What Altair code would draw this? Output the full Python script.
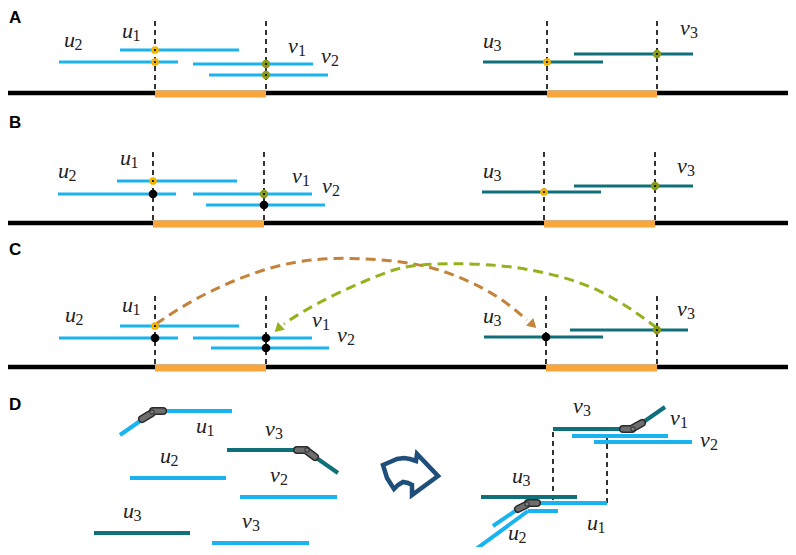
import altair as alt
import pandas as pd

# ---------------- canvas (reference pixel coordinates) ----------------
X0, X1 = 8, 788
Y0, Y1 = 8, 547

# ---------------- colours ----------------
BLUE = "#19b3ef"
TEAL = "#10707a"
ORANGE = "#f8a63c"
YELLOW = "#f5b400"
OLIVE = "#8a9b17"
BROWN = "#c4833a"
GREEN = "#95b21d"
NAVY = "#1f4e7a"

# ---------------- panel letters ----------------
panel_letters = ["A", "B", "C", "D"]
panel_letter_x = [9, 9, 9, 9]
panel_letter_y = [23, 128, 255, 410]

# ---------------- chromosome baselines ----------------
baseline_y = [93, 223, 367]
orange_x1 = [155, 547, 153, 544, 155, 546]
orange_x2 = [266, 657, 264, 655, 266, 657]
orange_y = [94, 94, 224, 224, 368, 368]

# ---------------- dashed vertical guides (x1, y1, x2, y2) ----------------
dashes = [
    (155, 21, 155, 93), (266, 21, 266, 93), (547, 21, 547, 93), (657, 21, 657, 93),
    (153, 152, 153, 223), (264, 152, 264, 223), (544, 152, 544, 223), (655, 152, 655, 223),
    (155, 296, 155, 367), (266, 296, 266, 367), (546, 296, 546, 367), (657, 296, 657, 367),
    (553, 432, 553, 503), (607, 435, 607, 506),
]

# ---------------- reads (light blue) ----------------
blue_segments = [
    # A
    (120, 50, 239, 50), (59, 62, 178, 62), (193, 64, 313, 64), (209, 75, 328, 75),
    # B
    (117, 181, 237, 181), (58, 194, 176, 194), (193, 194, 312, 194), (206, 205, 325, 205),
    # C
    (120, 326, 239, 326), (59, 338, 178, 338), (193, 338, 312, 338), (211, 348, 329, 348),
]
blue_segments_d = [
    (120, 435, 143, 419), (162, 411, 232, 411), (130, 478, 226, 478),
    (240, 497, 337, 497), (212, 543, 309, 543),
    (572, 436, 668, 436), (594, 442, 692, 442),
    (493, 526, 518, 509), (537, 503, 607, 503),
    (472, 552, 528, 511), (528, 511, 558, 511),
]

# ---------------- reads (teal) ----------------
teal_segments = [
    (483, 62, 603, 62), (574, 54, 693, 54),
    (482, 192, 601, 192), (574, 186, 693, 186),
    (484, 337, 603, 337), (570, 330, 688, 330),
]
teal_segments_d = [
    (227, 450, 297, 450), (315, 457, 338, 473), (94, 533, 190, 533),
    (553, 429, 623, 429), (642, 423, 665, 407), (481, 497, 577, 497),
]

# ---------------- joints ----------------
joint_pieces = [
    (142, 419, 152, 413), (153, 411, 163, 411),
    (297, 450, 306, 450), (307, 451, 315, 457),
    (623, 429, 632, 429), (633, 428, 642, 423),
    (518, 509, 526, 505), (528, 503, 537, 503),
]
joint_hinge_x = [152, 307, 633, 527]
joint_hinge_y = [412, 450, 429, 504]

# ---------------- breakpoint markers ----------------
yellow_x = [155, 155, 547, 153, 544, 155]
yellow_y = [50, 62, 62, 181, 192, 326]
olive_x = [266, 266, 657, 264, 655, 657]
olive_y = [64, 75, 54, 194, 186, 330]
black_x = [153, 264, 155, 266, 266, 546]
black_y = [194, 205, 338, 338, 348, 337]

# ---------------- labels (letter, subscript, x, baseline y) ----------------
labels = [
    ("u", "2", 64, 47), ("u", "1", 122, 38), ("v", "1", 288, 53), ("v", "2", 321, 63),
    ("u", "3", 483, 48), ("v", "3", 680, 35),
    ("u", "2", 58, 178), ("u", "1", 120, 165), ("v", "1", 292, 183), ("v", "2", 322, 193),
    ("u", "3", 483, 178), ("v", "3", 677, 173),
    ("u", "2", 65, 322), ("u", "1", 122, 312), ("v", "1", 312, 327), ("v", "2", 337, 342),
    ("u", "3", 483, 323), ("v", "3", 677, 316),
    ("u", "1", 196, 433), ("v", "3", 265, 436), ("u", "2", 160, 463), ("v", "2", 270, 482),
    ("u", "3", 123, 518), ("v", "3", 242, 528),
    ("v", "3", 573, 413), ("v", "1", 670, 425), ("v", "2", 700, 447),
    ("u", "3", 512, 483), ("u", "1", 587, 530), ("u", "2", 508, 540),
]

# ---------------- arcs in panel C ----------------
brown_x = [156, 187, 233, 283, 333, 393, 433, 467, 500, 527]
brown_y = [324, 303, 280, 263, 257, 260, 267, 280, 297, 320]
green_x = [657, 633, 600, 567, 533, 500, 450, 417, 397, 367, 333, 300, 284]
green_y = [328, 310, 290, 278, 270, 265, 263, 265, 268, 280, 295, 313, 324]
arrowhead_x = [533, 278]
arrowhead_y = [325, 329]
arrowhead_angle = [133, 227]
arrowhead_color = [BROWN, GREEN]

# ---------------- curved arrow icon (outline) ----------------
icon_x = [383, 387, 394, 398, 403, 408, 412, 412, 438, 417, 416, 410, 404, 397, 390]
icon_y = [465, 478, 489, 485, 482, 483, 485, 495, 476, 454, 461, 459, 458, 459, 462]

# ======================================================================
xs = alt.Scale(domain=[X0, X1], nice=False, zero=False)
ys = alt.Scale(domain=[Y0, Y1], nice=False, zero=False, reverse=True)


def X(f="x"):
    return alt.X(f"{f}:Q", scale=xs, axis=None)


def Y(f="y"):
    return alt.Y(f"{f}:Q", scale=ys, axis=None)


def seg_df(segs):
    return pd.DataFrame(segs, columns=["x", "y", "x2", "y2"])


def rules(segs, **kw):
    return alt.Chart(seg_df(segs)).mark_rule(**kw).encode(
        x=X(), y=Y(), x2="x2:Q", y2="y2:Q"
    )


layers = []

# baselines
base_df = pd.DataFrame({"x": [X0] * 3, "x2": [X1 + 8] * 3, "y": baseline_y})
layers.append(
    alt.Chart(base_df).mark_rule(color="black", strokeWidth=4.5, strokeCap="butt").encode(
        x=X(), x2="x2:Q", y=Y()
    )
)
orange_df = pd.DataFrame({"x": orange_x1, "x2": orange_x2, "y": orange_y})
layers.append(
    alt.Chart(orange_df).mark_rule(color=ORANGE, strokeWidth=7, strokeCap="butt").encode(
        x=X(), x2="x2:Q", y=Y()
    )
)

# dashed guides
layers.append(rules(dashes, color="black", strokeWidth=1.6, strokeDash=[5, 4], strokeCap="butt"))

# reads
layers.append(rules(blue_segments, color=BLUE, strokeWidth=3.2, strokeCap="butt"))
layers.append(rules(teal_segments, color=TEAL, strokeWidth=3.2, strokeCap="butt"))
layers.append(rules(blue_segments_d, color=BLUE, strokeWidth=4, strokeCap="butt"))
layers.append(rules(teal_segments_d, color=TEAL, strokeWidth=4, strokeCap="butt"))

# joints
layers.append(rules(joint_pieces, color="#2a2a2a", strokeWidth=8, strokeCap="round"))
layers.append(rules(joint_pieces, color="#6e6e6e", strokeWidth=5, strokeCap="round"))
hinge_df = pd.DataFrame({"x": joint_hinge_x, "y": joint_hinge_y})
layers.append(
    alt.Chart(hinge_df).mark_point(
        filled=True, size=18, color="#8a8a8a", stroke="#2a2a2a", strokeWidth=1.2
    ).encode(x=X(), y=Y())
)

# arcs
brown_df = pd.DataFrame({"x": brown_x, "y": brown_y, "o": range(len(brown_x))})
green_df = pd.DataFrame({"x": green_x, "y": green_y, "o": range(len(green_x))})
for df, col in [(brown_df, BROWN), (green_df, GREEN)]:
    layers.append(
        alt.Chart(df).mark_line(
            color=col, strokeWidth=3, strokeDash=[10, 6], interpolate="basis", strokeCap="butt"
        ).encode(x=X(), y=Y(), order="o:Q")
    )
head_df = pd.DataFrame(
    {"x": arrowhead_x, "y": arrowhead_y, "a": arrowhead_angle, "c": arrowhead_color}
)
layers.append(
    alt.Chart(head_df).mark_point(shape="triangle-up", filled=True, size=110, opacity=1).encode(
        x=X(), y=Y(), angle=alt.Angle("a:Q", scale=None), color=alt.Color("c:N", scale=None)
    )
)

# breakpoint markers
ydf = pd.DataFrame({"x": yellow_x, "y": yellow_y})
odf = pd.DataFrame({"x": olive_x, "y": olive_y})
bdf = pd.DataFrame({"x": black_x, "y": black_y})
layers.append(alt.Chart(ydf).mark_circle(size=60, color=YELLOW, opacity=1).encode(x=X(), y=Y()))
layers.append(alt.Chart(odf).mark_circle(size=70, color=OLIVE, opacity=1).encode(x=X(), y=Y()))
layers.append(alt.Chart(bdf).mark_circle(size=75, color="black", opacity=1).encode(x=X(), y=Y()))
centers = pd.concat([ydf, odf])
layers.append(alt.Chart(centers).mark_circle(size=5, color="black", opacity=1).encode(x=X(), y=Y()))

# curved arrow icon
icon_df = pd.DataFrame({"x": icon_x, "y": icon_y, "o": range(len(icon_x))})
layers.append(
    alt.Chart(icon_df).mark_line(
        color=NAVY, strokeWidth=4.5, interpolate="linear-closed", strokeJoin="miter"
    ).encode(x=X(), y=Y(), order="o:Q")
)

# labels
lab_df = pd.DataFrame(labels, columns=["letter", "sub", "x", "y"])
layers.append(
    alt.Chart(lab_df).mark_text(
        align="left", baseline="alphabetic", font="Liberation Serif",
        fontStyle="italic", fontSize=22, color="#222222"
    ).encode(x=X(), y=Y(), text="letter:N")
)
for letter, off in [("u", 10.5), ("v", 10.0)]:
    layers.append(
        alt.Chart(lab_df[lab_df["letter"] == letter]).mark_text(
            align="left", baseline="alphabetic", font="Liberation Serif",
            fontSize=16, dx=off, dy=3, color="#222222"
        ).encode(x=X(), y=Y(), text="sub:N")
    )

# panel letters
pl_df = pd.DataFrame({"t": panel_letters, "x": panel_letter_x, "y": panel_letter_y})
layers.append(
    alt.Chart(pl_df).mark_text(
        align="left", baseline="alphabetic", font="Liberation Sans",
        fontWeight="bold", fontSize=17, color="black"
    ).encode(x=X(), y=Y(), text="t:N")
)

chart = alt.layer(*layers).properties(
    width=X1 - X0, height=Y1 - Y0, padding=0, autosize=alt.AutoSizeParams(type="none")
).configure_view(stroke=None)

chart.save("out.html", embed_options={"renderer": "svg", "actions": False})
